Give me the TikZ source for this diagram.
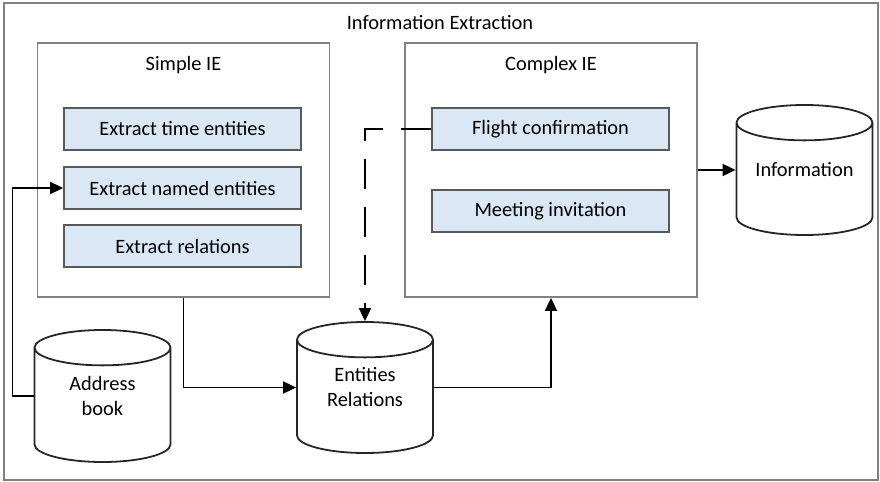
\documentclass[tikz,border=0pt]{standalone}
\usepackage{fontspec}
\setmainfont{Carlito}
\usetikzlibrary{calc}
\usetikzlibrary{arrows.meta}
\usetikzlibrary{shapes.geometric}
\definecolor{framegray}{RGB}{128,128,128}
\definecolor{boxblue}{RGB}{218,232,246}

\begin{document}
\begin{tikzpicture}[x=0.5pt, y=-0.5pt, font=\fontsize{10.2}{12.5}\selectfont,
    group/.style = {draw=framegray, line width=0.9pt, minimum width=146pt, minimum height=127pt},
    task/.style = {draw=black!65, fill=boxblue, line width=0.9pt, minimum width=118.5pt, minimum height=21pt},
    store/.style = {cylinder, shape border rotate=90, draw=black!85, line width=0.9pt, aspect=0.26,
        inner sep=0pt, text width=68pt, anchor=shape center},
    arr/.style = {-{Triangle[length=6.5pt, width=6pt]}, black, line width=0.9pt}]
            \useasboundingbox (0, 0) rectangle (880, 482);

            \coordinate (TL) at (4, 3);
            \coordinate (BR) at (878, 480);
            \draw [framegray, line width=1pt] (TL) rectangle (BR);
            \node (title) at (440, 23) {Information Extraction};

            % simple and complex IE
            \node [group] (simple) at (183.5, 170) {};
            \node (simplelabel) at (183.5, 65) {Simple IE};
            \node [group] (complex) at (551, 170) {};
            \node (complexlabel) at (551, 65) {Complex IE};

            \node [task] (time) at (182.5, 129) {Extract time entities};
            \node [task] (named) at (182.5, 188) {Extract named entities};
            \node [task] (rel) at (182.5, 246) {Extract relations};

            \node [task] (flight) at (550.5, 129) {Flight confirmation};
            \node [task] (meeting) at (550.5, 211) {Meeting invitation};

            % data stores (text set on the shape centre)
            \node [store, minimum height=65pt] (info) at (804.5, 170) {};
            \node (infotext) at (info.shape center) {Information};
            \node [store, minimum height=66pt] (address) at (102.5, 396) {};
            \node [align=center] (addresstext) at (address.shape center) {Address\\book};
            \node [store, minimum height=65.5pt] (entrel) at (365, 387.5) {};
            \node [align=center] (entreltext) at (entrel.shape center) {Entities\\Relations};

            \draw [arr] (address.west |- address.shape center) -- ++(-21, 0) |- (named.west);
            \draw [arr] (simple.south) |- (entrel.west |- entrel.shape center);
            \draw [arr] (entrel.east |- entrel.shape center) -| (complex.south);
            \draw [arr] (complex.east) -- (complex.east -| info.west);
            \draw [arr, dash pattern=on 15pt off 9pt] (flight.west) -| (entrel.north);
        \end{tikzpicture}
\end{document}
